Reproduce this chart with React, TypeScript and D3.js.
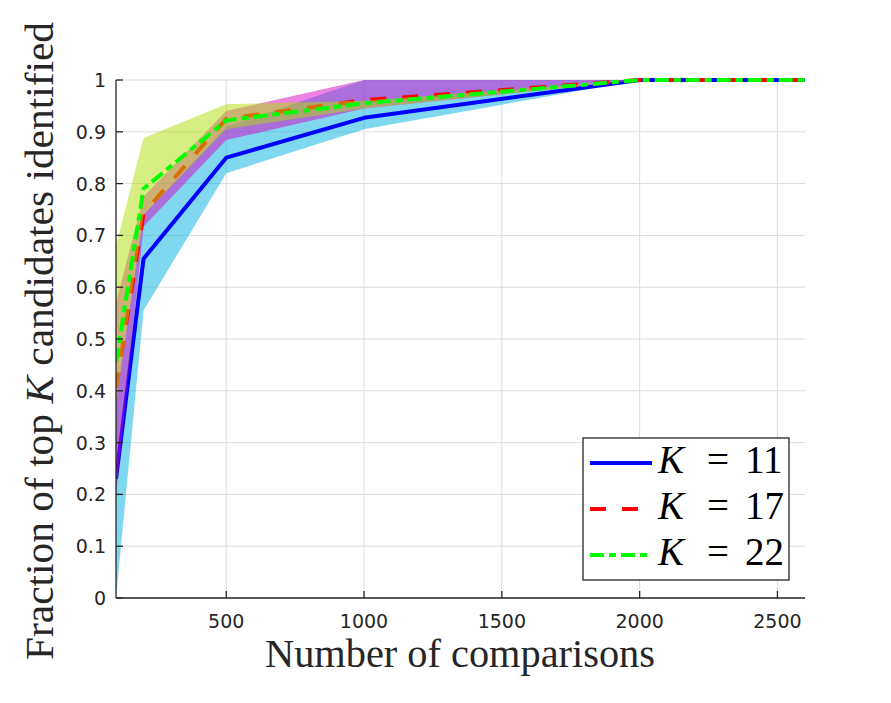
import React from "react";
import * as d3 from "d3";

const comparisons = [100, 200, 500, 1000, 2000, 2600];

const k11Mean = [0.23, 0.655, 0.85, 0.927, 1, 1];
const k11Lo = [0.0, 0.555, 0.82, 0.905, 1, 1];
const k11Hi = [0.38, 0.74, 0.91, 1.0, 1, 1];

const k17Mean = [0.405, 0.743, 0.925, 0.961, 1, 1];
const k17Lo = [0.2, 0.717, 0.884, 0.945, 1, 1];
const k17Hi = [0.57, 0.775, 0.94, 1.0, 1, 1];

const k22Mean = [0.456, 0.79, 0.922, 0.955, 1, 1];
const k22Lo = [0.375, 0.74, 0.905, 0.945, 1, 1];
const k22Hi = [0.68, 0.888, 0.953, 0.96, 1, 1];

const xTicks = [500, 1000, 1500, 2000, 2500];
const yTicks = [0, 0.1, 0.2, 0.3, 0.4, 0.5, 0.6, 0.7, 0.8, 0.9, 1];
const seriesLabels = ["11", "17", "22"];

const W = 891;
const H = 703;
const L = 116, R = 805, T = 80, B = 598;

export default function App() {
  const x = d3.scaleLinear().domain([100, 2600]).range([L, R]);
  const y = d3.scaleLinear().domain([0, 1]).range([B, T]);

  const series = [
    { mean: k11Mean, lo: k11Lo, hi: k11Hi, fill: "rgb(0,175,225)", stroke: "#0000ff", dash: "none" },
    { mean: k17Mean, lo: k17Lo, hi: k17Hi, fill: "rgb(215,5,195)", stroke: "#ff0000", dash: "16,16" },
    { mean: k22Mean, lo: k22Lo, hi: k22Hi, fill: "rgb(175,221,5)", stroke: "#00ff00", dash: "14,5,7,5" },
  ];

  const area = (lo: number[], hi: number[]) =>
    d3
      .area<number>()
      .x((d) => x(d))
      .y0((_, i) => y(lo[i]))
      .y1((_, i) => y(hi[i]))(comparisons) || "";
  const line = (m: number[]) =>
    d3
      .line<number>()
      .x((d) => x(d))
      .y((_, i) => y(m[i]))(comparisons) || "";

  const axisColor = "#262626";
  const tickFont = "'DejaVu Sans', sans-serif";
  const serif = "'Liberation Serif', 'DejaVu Serif', serif";

  const legendRows = [463, 509, 555];

  return (
    <svg
      width={W}
      height={H}
      style={{ position: "absolute", left: 0, top: 0, background: "#fff" }}
    >
      <rect x={0} y={0} width={W} height={H} fill="#fff" />
      {xTicks.map((t) => (
        <line key={"gx" + t} x1={x(t)} x2={x(t)} y1={T} y2={B} stroke="#dcdcdc" strokeWidth={1} />
      ))}
      {yTicks.map((t) => (
        <line key={"gy" + t} x1={L} x2={R} y1={y(t)} y2={y(t)} stroke="#dcdcdc" strokeWidth={1} />
      ))}
      <defs>
        <clipPath id="plotclip">
          <rect x={L} y={T - 3} width={R - L} height={B - T + 3} />
        </clipPath>
      </defs>
      <g clipPath="url(#plotclip)">
        {series.map((s, i) => (
          <g key={"s" + i}>
            <path d={area(s.lo, s.hi)} fill={s.fill} fillOpacity={0.5} stroke="none" />
            <path
              d={line(s.mean)}
              fill="none"
              stroke={s.stroke}
              strokeWidth={4}
              strokeDasharray={s.dash}
              strokeLinejoin="round"
            />
          </g>
        ))}
      </g>
      <line x1={L} x2={R} y1={B} y2={B} stroke={axisColor} strokeWidth={1.3} />
      <line x1={L} x2={L} y1={T} y2={B} stroke={axisColor} strokeWidth={1.3} />
      {xTicks.map((t) => (
        <g key={"xt" + t}>
          <line x1={x(t)} x2={x(t)} y1={B} y2={B - 7} stroke={axisColor} strokeWidth={1.3} />
          <text
            x={x(t)}
            y={628}
            textAnchor="middle"
            fontFamily={tickFont}
            fontSize={19}
            fill={axisColor}
          >
            {t}
          </text>
        </g>
      ))}
      {yTicks.map((t) => (
        <g key={"yt" + t}>
          <line x1={L} x2={L + 7} y1={y(t)} y2={y(t)} stroke={axisColor} strokeWidth={1.3} />
          <text
            x={106}
            y={y(t) + 7}
            textAnchor="end"
            fontFamily={tickFont}
            fontSize={19}
            fill={axisColor}
          >
            {d3.format("~g")(t)}
          </text>
        </g>
      ))}
      <text
        x={460}
        y={667}
        textAnchor="middle"
        fontFamily={serif}
        fontSize={41}
        fill={axisColor}
        textLength={390}
        lengthAdjust="spacingAndGlyphs"
      >
        Number of comparisons
      </text>
      <text
        transform={`translate(53,341) rotate(-90)`}
        textAnchor="middle"
        fontFamily={serif}
        fontSize={41}
        fill={axisColor}
        textLength={638}
        lengthAdjust="spacingAndGlyphs"
      >
        Fraction of top <tspan fontStyle="italic">K</tspan> candidates identified
      </text>
      <rect x={583} y={438} width={206} height={142} fill="#fff" stroke={axisColor} strokeWidth={1.3} />
      {series.map((s, i) => (
        <g key={"lg" + i}>
          <line
            x1={590}
            x2={652}
            y1={legendRows[i]}
            y2={legendRows[i]}
            stroke={s.stroke}
            strokeWidth={4}
            strokeDasharray={s.dash}
          />
          <text x={658} y={legendRows[i] + 10} fontFamily={serif} fontSize={39} fill="#000" fontStyle="italic">
            K
          </text>
          <text x={718} y={legendRows[i] + 10} fontFamily={serif} fontSize={39} fill="#000" textAnchor="middle">
            =
          </text>
          <text x={745} y={legendRows[i] + 10} fontFamily={serif} fontSize={39} fill="#000">
            {seriesLabels[i]}
          </text>
        </g>
      ))}
    </svg>
  );
}
